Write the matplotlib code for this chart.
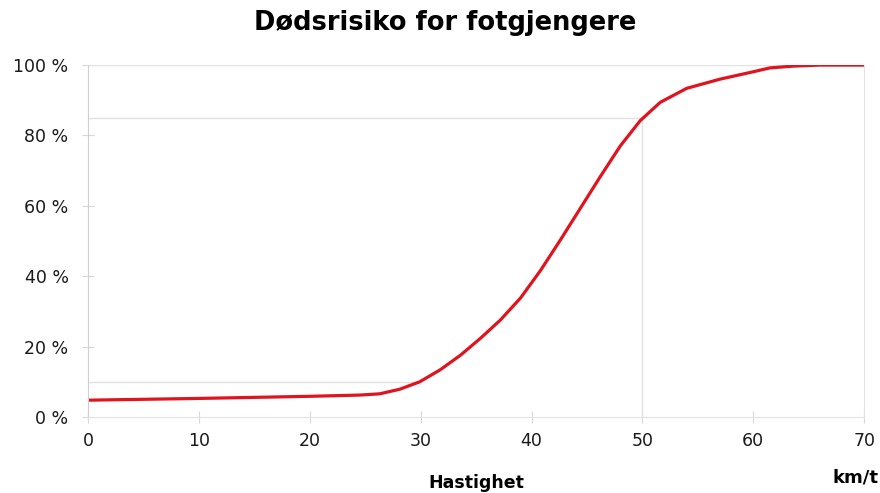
import matplotlib.pyplot as plt
import numpy as np

plt.rcParams['font.family'] = ['DejaVu Sans']

# fart (km/t) og dødsrisiko (%)
speed = [0, 10, 20, 24.5, 26.3, 28.1, 29.9, 31.75, 33.6, 35.4, 37.2, 39.0, 40.8, 42.6, 44.4,
         46.2, 48.0, 49.8, 51.6, 54.0, 57.0, 60.0, 61.5, 63.6, 66, 70]
risk = [4.8, 5.3, 5.9, 6.25, 6.6, 7.9, 10.0, 13.4, 17.6, 22.4, 27.6, 33.8, 41.6, 50.3, 59.3,
        68.3, 77.0, 84.2, 89.4, 93.4, 96.0, 98.1, 99.2, 99.7, 100, 100]

xticks = [0, 10, 20, 30, 40, 50, 60, 70]
yticks = [0, 20, 40, 60, 80, 100]
ylabels = ['0 %', '20 %', '40 %', '60 %', '80 %', '100 %']

fig = plt.figure(figsize=(8.8, 4.93), dpi=100)
fig.set_facecolor('white')
ax = fig.add_axes([0.1, 0.154, 0.882, 0.714])

grid = '#e2e2e2'
# hjelpelinjer
ax.plot([0, 50], [85, 85], color=grid, lw=1)
ax.plot([50, 50], [0, 85], color=grid, lw=1)
ax.plot([0, 30], [10, 10], color=grid, lw=1)
ax.axhline(100, color=grid, lw=1)

ax.plot(speed, risk, color='#e0141e', lw=2.3, solid_capstyle='butt', solid_joinstyle='round')

ax.set_xlim(0, 70)
ax.set_ylim(0, 100)
ax.set_xticks(xticks)
ax.set_yticks(yticks)
ax.set_yticklabels(ylabels)
ax.spines['top'].set_visible(False)
ax.spines['left'].set_color('#cfcfcf')
ax.spines['bottom'].set_color('#e2e2e2')
ax.spines['right'].set_color('#e2e2e2')
ax.tick_params(axis='both', colors='#d8d8d8', labelcolor='#1a1a1a', labelsize=12.5,
               direction='inout', length=8)
ax.tick_params(axis='x', pad=7)
ax.tick_params(axis='y', pad=10)

fig.text(0.506, 0.939, 'Dødsrisiko for fotgjengere', ha='center', va='baseline', fontsize=18.5, fontweight='bold')
fig.text(0.5415, 0.01, 'Hastighet', ha='center', va='baseline', fontsize=12.5, fontweight='bold')
fig.text(0.9716, 0.022, 'km/t', ha='center', va='baseline', fontsize=13, fontweight='bold')

plt.savefig('out.png', dpi=100)
